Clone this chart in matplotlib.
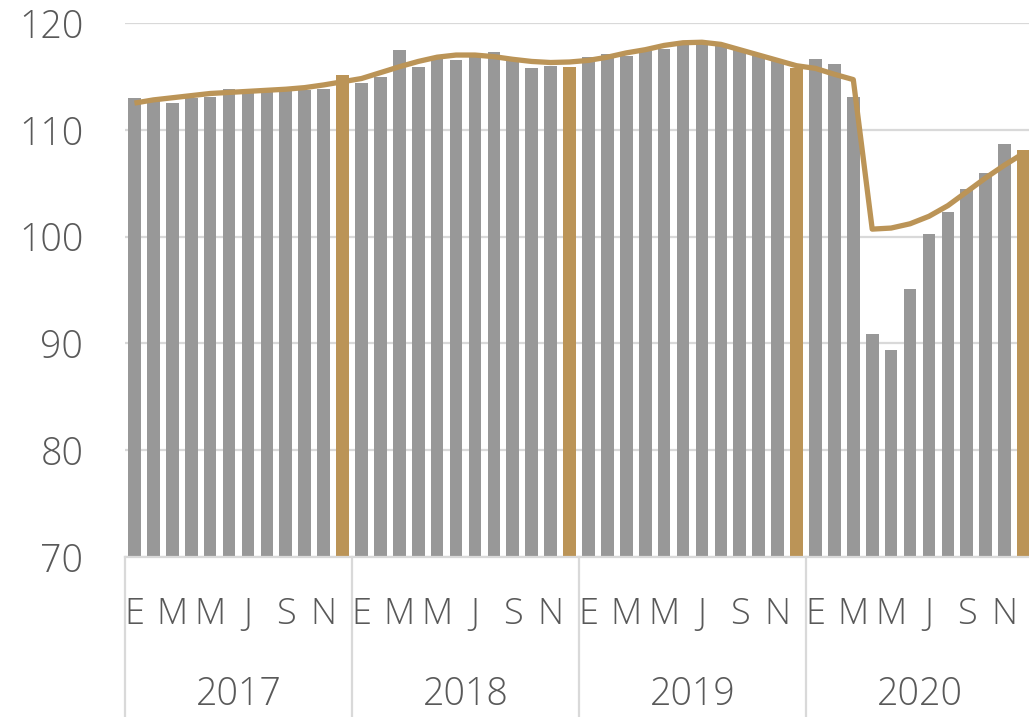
import numpy as np
import matplotlib
matplotlib.use("Agg")
import matplotlib.pyplot as plt

# monthly index values, Jan 2017 .. Dec 2020
years = ['2017', '2018', '2019', '2020']
month_letters = ['E', '', 'M', '', 'M', '', 'J', '', 'S', '', 'N', '']

bars = [113.0, 112.7, 112.5, 113.0, 113.1, 113.8, 113.5, 113.6, 113.6, 113.7, 113.8, 115.1,
        114.4, 114.9, 117.5, 115.9, 116.9, 116.5, 116.8, 117.3, 116.6, 115.8, 116.0, 115.9,
        116.8, 117.1, 116.9, 117.4, 117.6, 118.0, 118.0, 117.8, 117.5, 116.9, 116.4, 115.8,
        116.6, 116.2, 113.1, 90.9, 89.4, 95.1, 100.2, 102.3, 104.5, 106.0, 108.7, 108.1]

trend = [112.5, 112.8, 113.0, 113.2, 113.4, 113.5, 113.6, 113.7, 113.8, 113.95, 114.2, 114.5,
         114.8, 115.35, 115.9, 116.4, 116.8, 117.0, 117.0, 116.85, 116.6, 116.4, 116.3, 116.35,
         116.5, 116.8, 117.2, 117.5, 117.9, 118.15, 118.2, 118.0, 117.5, 117.0, 116.5, 116.0,
         115.75, 115.2, 114.7, 100.7, 100.8, 101.2, 101.9, 102.9, 104.2, 105.5, 106.7, 107.8]

gray = '#989898'
gold = '#BB9457'
txt = '#595959'
grid = '#d9d9d9'

plt.rcParams['font.family'] = ['Open Sans', 'DejaVu Sans']
plt.rcParams['font.weight'] = 'light'

fig = plt.figure(figsize=(10.29, 7.17), dpi=100)
W, H = 1029, 717
ax = fig.add_axes([125 / W, 160 / H, (1033 - 125) / W, 534 / H])

x = np.arange(len(bars))
colors = [gold if i % 12 == 11 else gray for i in x]
ax.bar(x, bars, width=0.67, color=colors, zorder=2)
ax.plot(x, trend, color=gold, lw=3.8, zorder=3, solid_capstyle='butt')

ax.set_ylim(70, 120)
ax.set_xlim(-0.5, len(bars) - 0.5)
ax.set_yticks([70, 80, 90, 100, 110, 120])
ax.yaxis.grid(True, color=grid, lw=1.6, zorder=0)
ax.set_axisbelow(True)
ax.tick_params(axis='y', length=0, pad=30, labelsize=27, labelcolor=txt)
ax.set_xticks([])
for s in ['top', 'right', 'left']:
    ax.spines[s].set_visible(False)
ax.spines['bottom'].set_color(grid)
ax.spines['bottom'].set_linewidth(1.6)

tr = ax.get_xaxis_transform()
for i in x:
    lab = month_letters[i % 12]
    if lab:
        ax.text(i, -0.107, lab, transform=tr, ha='center', va='center',
                fontsize=26, color=txt)
for k, yr in enumerate(years):
    ax.text(k * 12 + 5.5, -0.258, yr, transform=tr, ha='center', va='center',
            fontsize=27, color=txt)
for b in [-0.5, 11.5, 23.5, 35.5, 47.5]:
    ax.plot([b, b], [0, -0.31], transform=tr, color=grid, lw=1.6, clip_on=False)

fig.savefig('out.png', dpi=100)
